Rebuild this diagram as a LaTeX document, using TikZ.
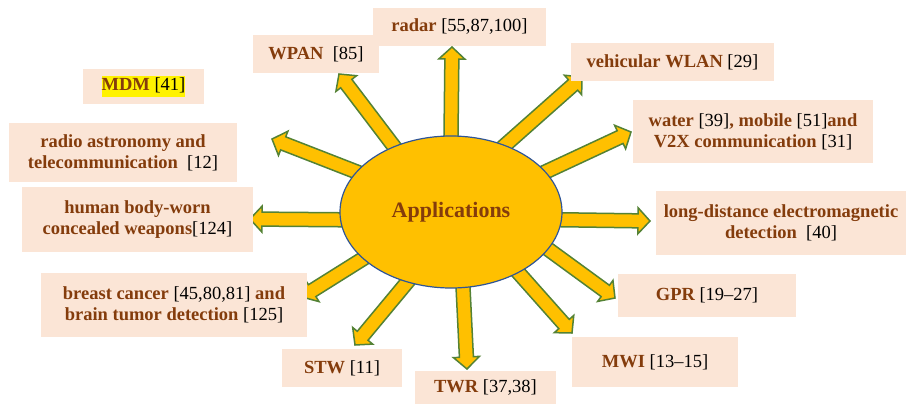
\documentclass[tikz,border=0pt]{standalone}
\usepackage{fontspec}
\setmainfont{Liberation Serif}
\usepackage{xcolor}
\usetikzlibrary{calc,shapes.geometric,backgrounds}
\definecolor{appbrown}{HTML}{843C0C}
\definecolor{boxpeach}{HTML}{FBE5D6}
\definecolor{arrowgold}{HTML}{FFC000}
\definecolor{arrowgreen}{HTML}{548235}
\definecolor{ringblue}{HTML}{2F5597}
\newcommand{\apname}[1]{\textbf{\textcolor{appbrown}{#1}}}
\newcommand{\apparrow}[2]{%
  \coordinate (s) at ($(#1)!-8pt!(#2)$);
  \coordinate (n) at ($(#2)!12pt!(s)$);
  \filldraw[arrowbody] ($(s)!7pt!90:(#2)$) -- ($(n)!7pt!90:(#2)$) -- ($(n)!13pt!90:(#2)$) -- (#2)
    -- ($(n)!13pt!-90:(#2)$) -- ($(n)!7pt!-90:(#2)$) -- ($(s)!7pt!-90:(#2)$) -- cycle;}
\tikzset{
  appbox/.style={fill=boxpeach, inner sep=0pt, align=center, font=\fontsize{18.5}{21}\selectfont},
  arrowbody/.style={fill=arrowgold, draw=arrowgreen, line width=1.5pt, line join=miter}
}

\begin{document}
\begin{tikzpicture}[x=1pt, y=-1pt]
  \useasboundingbox (0,0) rectangle (906,405);
  \node[appbox, minimum width=126pt, minimum height=38pt] (wpan) at (316,54) {\apname{WPAN}\ \ [85]};
  \node[appbox, minimum width=173pt, minimum height=38pt] (radar) at (459.5,27) {\apname{radar} [55,87,100]};
  \node[appbox, minimum width=121pt, minimum height=35pt] (mdm) at (143.5,86.5) {\setlength{\fboxsep}{0pt}\colorbox{yellow}{\strut\apname{MDM} [41]}};
  \node[appbox, minimum width=228pt, minimum height=59pt] (radio) at (123,152.5) {\apname{radio astronomy and}\\\apname{telecommunication}\ \ [12]};
  \node[appbox, minimum width=231pt, minimum height=65pt] (human) at (137.5,219.5) {\apname{human body-worn}\\\apname{concealed weapons}[124]};
  \node[appbox, minimum width=266pt, minimum height=64pt] (breast) at (174,305) {\apname{breast cancer} [45,80,81] \apname{and}\\\apname{brain tumor detection} [125]};
  \node[appbox, minimum width=120pt, minimum height=38pt] (stw) at (342,368) {\apname{STW} [11]};
  \node[appbox, minimum width=141pt, minimum height=33pt] (twr) at (485.5,387.5) {\apname{TWR} [37,38]};
  \node[appbox, minimum width=166pt, minimum height=50pt] (mwi) at (655,362) {\apname{MWI} [13--15]};
  \node[appbox, minimum width=178pt, minimum height=43pt] (gpr) at (707,295.5) {\apname{GPR} [19--27]};
  \node[appbox, minimum width=250pt, minimum height=64pt] (long) at (781,223) {\apname{long-distance electromagnetic}\\\apname{detection}\ \ [40]};
  \node[appbox, minimum width=240pt, minimum height=63pt] (water) at (753,131.5) {\apname{water} [39]\apname{, mobile} [51]\apname{and}\\\apname{V2X communication} [31]};
  \node[appbox, minimum width=203pt, minimum height=38pt] (wlan) at (672.5,62) {\apname{vehicular WLAN} [29]};
  \node[ellipse, draw=ringblue, line width=1.2pt, fill=arrowgold, minimum width=222pt, minimum height=152pt, inner sep=0pt,
    font=\fontsize{22}{26}\selectfont\bfseries, text=appbrown] (app) at (451,212) {Applications};
  \coordinate (radarTip) at (452,47);
  \coordinate (wpanTip) at (339,74);
  \coordinate (radioTip) at (272,139);
  \coordinate (humanTip) at (250,219);
  \coordinate (breastTip) at (302,297);
  \coordinate (stwTip) at (355,345);
  \coordinate (twrTip) at (467,369);
  \coordinate (mwiTip) at (572,333);
  \coordinate (gprTip) at (615,298);
  \coordinate (longTip) at (650,221);
  \coordinate (waterTip) at (631,132);
  \coordinate (wlanTip) at (582,77);
  \begin{scope}[on background layer]
    \foreach \ang/\tip in {90/radarTip, 131/wpanTip, 157/radioTip, 184/humanTip, 208/breastTip, 238/stwTip,
      279/twrTip, 318/mwiTip, 339/gprTip, 356/longTip, 23/waterTip, 51/wlanTip}
      {\apparrow{app.\ang}{\tip}}
  \end{scope}
\end{tikzpicture}
\end{document}
